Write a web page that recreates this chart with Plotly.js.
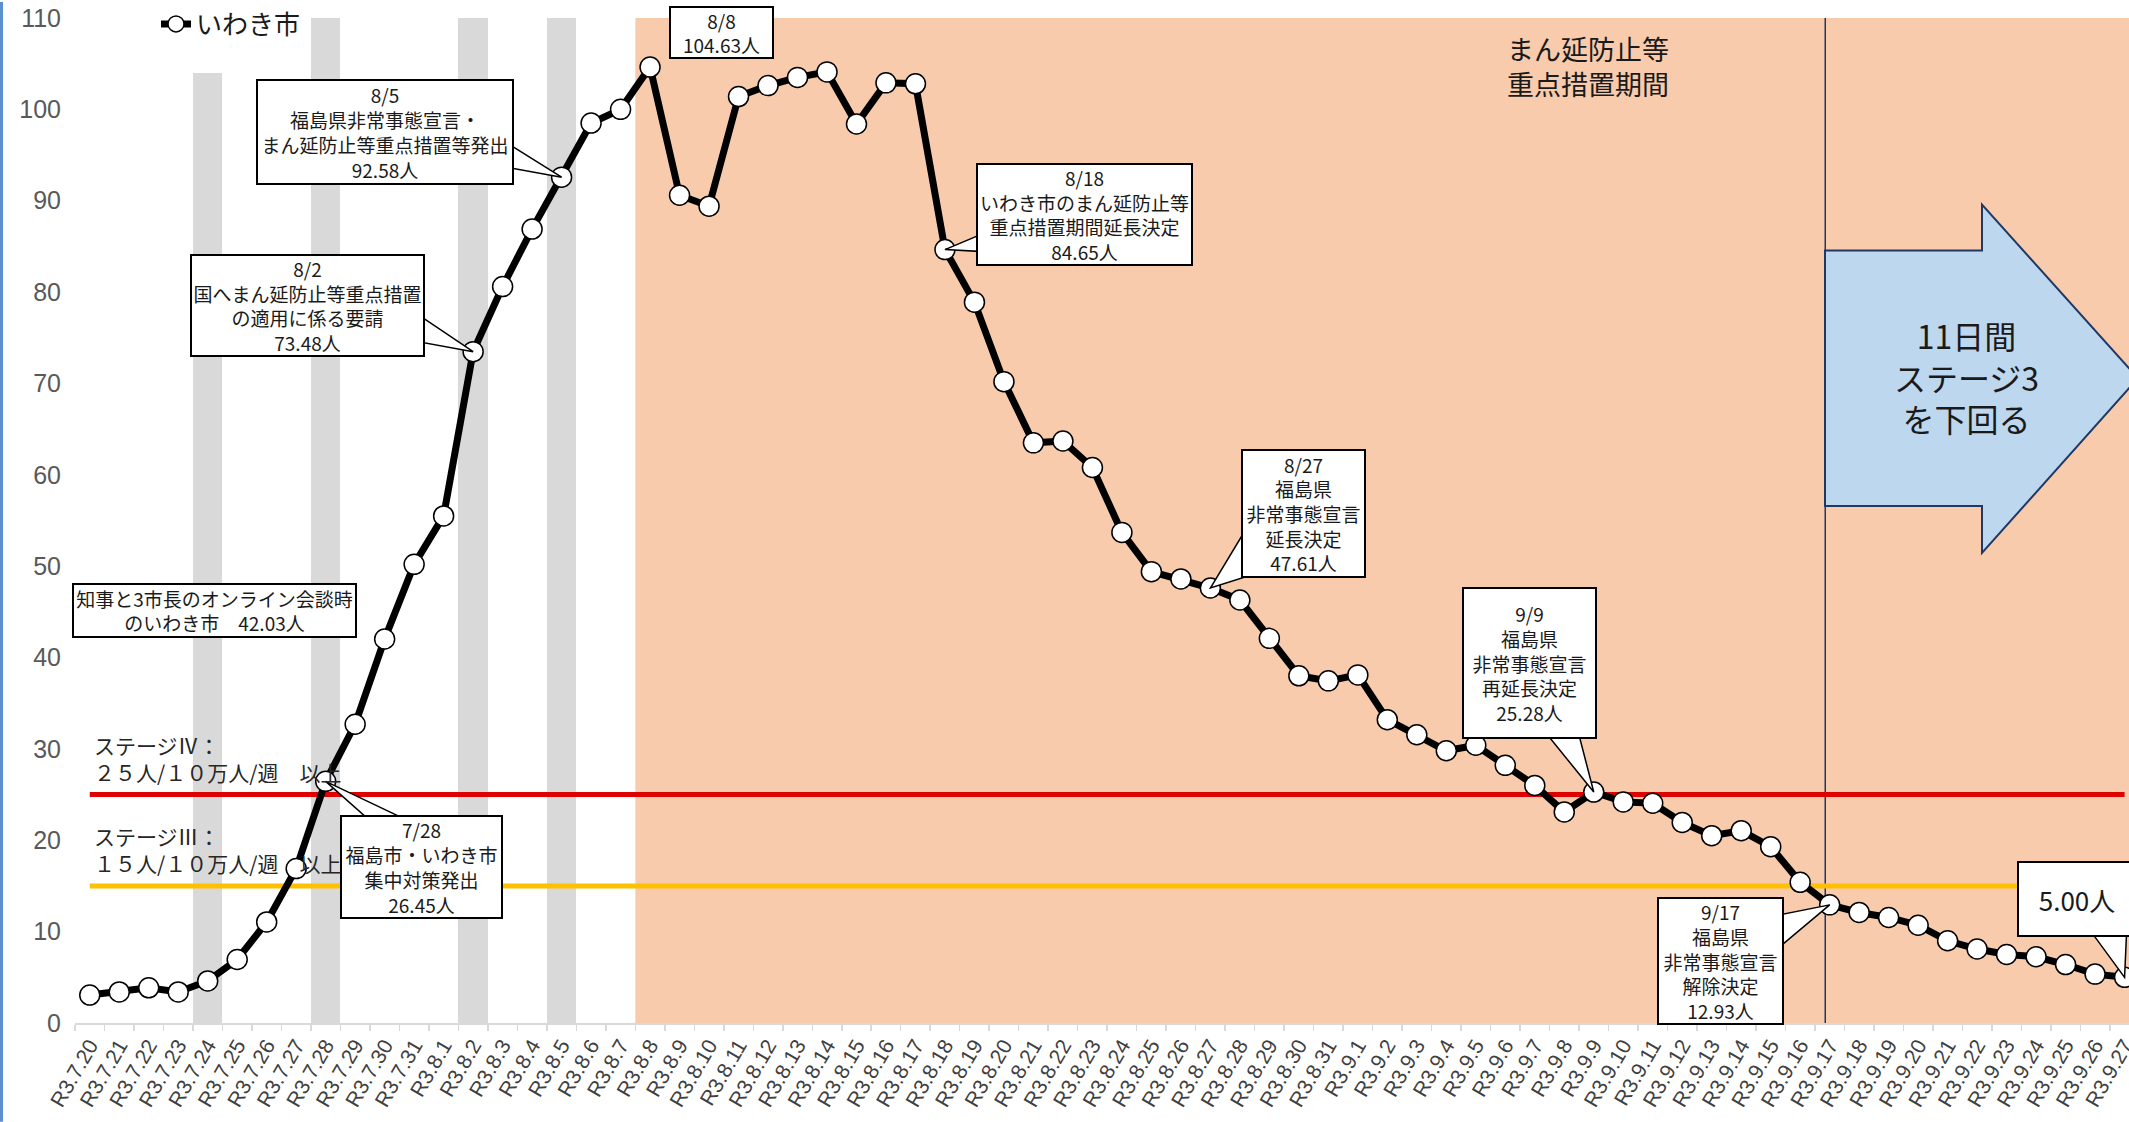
<!DOCTYPE html>
<html><head><meta charset="utf-8">
<script src="https://cdn.plot.ly/plotly-3.0.1.min.js"></script>
<style>html,body{margin:0;padding:0;background:#fff;overflow:hidden}#chart{width:2129px;height:1122px}</style>
</head><body><div id="chart"></div>
<script>
// ---------- data ----------
const dates = ['R3.7.20','R3.7.21','R3.7.22','R3.7.23','R3.7.24','R3.7.25','R3.7.26','R3.7.27','R3.7.28','R3.7.29',
 'R3.7.30','R3.7.31','R3.8.1','R3.8.2','R3.8.3','R3.8.4','R3.8.5','R3.8.6','R3.8.7','R3.8.8',
 'R3.8.9','R3.8.10','R3.8.11','R3.8.12','R3.8.13','R3.8.14','R3.8.15','R3.8.16','R3.8.17','R3.8.18',
 'R3.8.19','R3.8.20','R3.8.21','R3.8.22','R3.8.23','R3.8.24','R3.8.25','R3.8.26','R3.8.27','R3.8.28',
 'R3.8.29','R3.8.30','R3.8.31','R3.9.1','R3.9.2','R3.9.3','R3.9.4','R3.9.5','R3.9.6','R3.9.7',
 'R3.9.8','R3.9.9','R3.9.10','R3.9.11','R3.9.12','R3.9.13','R3.9.14','R3.9.15','R3.9.16','R3.9.17',
 'R3.9.18','R3.9.19','R3.9.20','R3.9.21','R3.9.22','R3.9.23','R3.9.24','R3.9.25','R3.9.26','R3.9.27'];
const iwakiValues = [3.06, 3.40, 3.85, 3.40, 4.60, 6.95, 11.06, 16.90, 26.45, 32.70,
 42.03, 50.20, 55.50, 73.48, 80.60, 86.90, 92.58, 98.50, 100.00, 104.63,
 90.60, 89.40, 101.40, 102.60, 103.50, 104.10, 98.40, 102.90, 102.80, 84.65,
 78.90, 70.20, 63.50, 63.70, 60.80, 53.70, 49.40, 48.60, 47.61, 46.30,
 42.10, 38.00, 37.45, 38.10, 33.20, 31.55, 29.80, 30.40, 28.20, 26.00,
 23.10, 25.28, 24.20, 24.05, 21.95, 20.50, 21.05, 19.30, 15.40, 12.93,
 12.10, 11.55, 10.70, 9.00, 8.10, 7.50, 7.25, 6.40, 5.35, 5.00];
const grayDays = ['R3.7.24','R3.7.28','R3.8.2','R3.8.5'];
const grayHeights = [104, 110, 110, 110];
const periodStart = 'R3.8.8';
const liftDay = 'R3.9.17';
const stage4Value = 25;
const stage3Value = 15;
const yTicks = [0,10,20,30,40,50,60,70,80,90,100,110];
const seriesName = 'いわき市';

const callouts = [
 {date:'R3.8.8',  text:'8/8<br>104.63人', dx:71, dy:-35, w:101, h:49, fs:19, wedge:null},
 {date:'R3.8.5',  text:'8/5<br>福島県非常事態宣言・<br>まん延防止等重点措置等発出<br>92.58人', dx:-177, dy:-45, w:254, h:102, fs:19, wedge:[[-56,35],[-56,10]]},
 {date:'R3.8.2',  text:'8/2<br>国へまん延防止等重点措置<br>の適用に係る要請<br>73.48人', dx:-166, dy:-46, w:231, h:99, fs:19, wedge:[[-55,37],[-55,10]]},
 {date:'R3.7.30', text:'知事と3市長のオンライン会談時<br>のいわき市　42.03人', dx:-170, dy:-29, w:281, h:51, fs:19, wedge:null},
 {date:'R3.7.28', text:'7/28<br>福島市・いわき市<br>集中対策発出<br>26.45人', dx:96, dy:86, w:159, h:100, fs:19, wedge:[[45,-40],[84,-40]]},
 {date:'R3.8.18', text:'8/18<br>いわき市のまん延防止等<br>重点措置期間延長決定<br>84.65人', dx:140, dy:-35, w:213, h:99, fs:19, wedge:[[38,16],[38,-2]]},
 {date:'R3.8.27', text:'8/27<br>福島県<br>非常事態宣言<br>延長決定<br>47.61人', dx:93, dy:-75, w:121, h:125, fs:19, wedge:[[38,63],[38,12]]},
 {date:'R3.9.9',  text:'9/9<br>福島県<br>非常事態宣言<br>再延長決定<br>25.28人', dx:-64, dy:-129, w:131, h:148, fs:19, wedge:[[-47,58],[-15,58]]},
 {date:'R3.9.17', text:'9/17<br>福島県<br>非常事態宣言<br>解除決定<br>12.93人', dx:-109, dy:56, w:123, h:124, fs:19, wedge:[[-50,-10],[-50,-42]]},
 {date:'R3.9.27', text:'5.00人', dx:-48, dy:-78, w:116, h:72, fs:26, wedge:[[-33,45],[2,45]]}
];

// ---------- geometry ----------
const W = 2129, H = 1122, L = 75, T = 16, B = 99;
const PW = W - L, PH = H - T - B;
const px = x => (x - L) / PW;
const py = y => (H - B - y) / PH;
const idx = d => dates.indexOf(d);
const JP = '"Noto Sans CJK JP", "Noto Sans", sans-serif';
const valueOf = d => iwakiValues[idx(d)];

// ---------- traces ----------
const traces = [
 {type:'bar', x:grayDays, y:grayHeights, width:1, marker:{color:'#D9D9D9'}, showlegend:false, hoverinfo:'skip'},
 {type:'scatter', mode:'lines', x:[dates[0], dates[dates.length-1]], y:[stage4Value, stage4Value],
  line:{color:'#DF0000', width:5}, showlegend:false, hoverinfo:'skip'},
 {type:'scatter', mode:'lines', x:[dates[0], dates[dates.length-1]], y:[stage3Value, stage3Value],
  line:{color:'#FFC000', width:5}, showlegend:false, hoverinfo:'skip'},
 {type:'scatter', mode:'lines+markers', name:seriesName, x:dates, y:iwakiValues, cliponaxis:false,
  line:{color:'#000000', width:7},
  marker:{size:20, color:'#FFFFFF', line:{color:'#000000', width:1.5}}}
];

// ---------- shapes ----------
const shapes = [
 {type:'rect', xref:'x', yref:'y', x0:idx(periodStart)-0.5, x1:dates.length+1, y0:0, y1:110,
  fillcolor:'#F8CBAD', line:{width:0}, layer:'below'},
 {type:'line', xref:'x', yref:'y', x0:idx(liftDay)-0.15, x1:idx(liftDay)-0.15, y0:0, y1:110,
  line:{color:'#1F3864', width:1.5}, layer:'below'},
 {type:'path', xref:'paper', yref:'paper', layer:'above',
  path:'M'+px(1825)+','+py(249)+' L'+px(1982)+','+py(249)+' L'+px(1982)+','+py(203)+' L'+px(2138)+','+py(377)+
       ' L'+px(1982)+','+py(552)+' L'+px(1982)+','+py(505)+' L'+px(1825)+','+py(505)+' Z',
  fillcolor:'#BDD7EE', line:{color:'#1F3864', width:2}},
 {type:'rect', xref:'paper', yref:'paper', x0:px(0), x1:px(3), y0:py(H), y1:py(0),
  fillcolor:'#5B8FCF', line:{width:0}}
];
callouts.forEach(c => {
  if (!c.wedge) return;
  shapes.push({type:'path', xref:'x', yref:'y', xsizemode:'pixel', ysizemode:'pixel',
    xanchor:c.date, yanchor:valueOf(c.date), layer:'above',
    path:'M0,0 L'+c.wedge[0][0]+','+c.wedge[0][1]+' L'+c.wedge[1][0]+','+c.wedge[1][1]+' Z',
    fillcolor:'#FFFFFF', line:{color:'#000000', width:1.5}});
});

// ---------- annotations ----------
const annotations = callouts.map(c => ({
  x:c.date, y:valueOf(c.date), xref:'x', yref:'y', showarrow:false, xanchor:'center', yanchor:'middle',
  xshift:c.dx, yshift:-c.dy, width:c.w, height:c.h, text:c.text, align:'center', valign:'middle',
  bgcolor:'#FFFFFF', bordercolor:'#000000', borderwidth:2, borderpad:0,
  font:{family:JP, size:c.fs, color:'#1A1A1A'}
}));
annotations.push(
 {xref:'paper', yref:'paper', x:px(1588), y:py(64), xanchor:'center', yanchor:'middle', showarrow:false,
  text:'まん延防止等<br>重点措置期間', font:{family:JP, size:27, color:'#1A1A1A'}},
 {xref:'paper', yref:'paper', x:px(1966), y:py(375), xanchor:'center', yanchor:'middle', showarrow:false,
  text:'11日間<br>ステージ3<br>を下回る', font:{family:JP, size:32, color:'#1A1A1A'}},
 {xref:'paper', yref:'y', x:px(92), y:stage4Value, yshift:36, xanchor:'left', yanchor:'middle', align:'left', showarrow:false,
  text:'ステージⅣ：<br>２５人/１０万人/週　以上', font:{family:JP, size:21, color:'#262626'}},
 {xref:'paper', yref:'y', x:px(92), y:stage3Value, yshift:36, xanchor:'left', yanchor:'middle', align:'left', showarrow:false,
  text:'ステージⅢ：<br>１５人/１０万人/週　以上', font:{family:JP, size:21, color:'#262626'}}
);

const layout = {
  width:W, height:H, margin:{l:L, r:0, t:T, b:B, pad:0},
  paper_bgcolor:'#FFFFFF', plot_bgcolor:'#FFFFFF',
  showlegend:true,
  legend:{x:px(156), xanchor:'left', y:py(22), yanchor:'middle', bgcolor:'rgba(0,0,0,0)',
          font:{family:JP, size:26, color:'#1A1A1A'}},
  xaxis:{type:'category', categoryorder:'array', categoryarray:dates, range:[-0.5, 69.15],
         tickmode:'linear', tick0:0, dtick:1, tickangle:-60, tickson:'boundaries',
         ticks:'outside', ticklen:6, tickwidth:1.5, tickcolor:'#D9D9D9',
         showline:true, linecolor:'#D9D9D9', linewidth:2, showgrid:false, zeroline:false,
         tickfont:{family:'"Liberation Sans", Arial, sans-serif', size:21, color:'#404040'}, fixedrange:true},
  yaxis:{range:[0,110], tickmode:'array', tickvals:yTicks, ticks:'', showline:false, showgrid:false,
         zeroline:false, ticklabelstandoff:13,
         tickfont:{family:'"Liberation Sans", Arial, sans-serif', size:25, color:'#595959'}, fixedrange:true},
  bargap:0, shapes:shapes, annotations:annotations
};

Plotly.newPlot('chart', traces, layout, {displayModeBar:false, staticPlot:true});
</script>
</body></html>
